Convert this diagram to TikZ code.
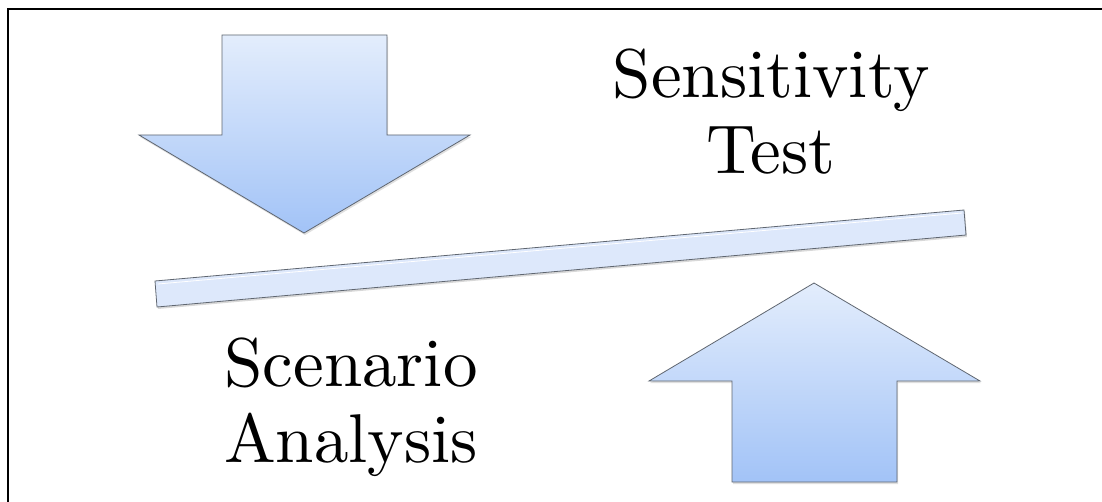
\documentclass[tikz,border=0pt]{standalone}
\usepackage{fontspec}
\setmainfont{lmroman10-regular.otf}
\usetikzlibrary{shadows}
\definecolor{arrowtop}{HTML}{E3EDFC}
\definecolor{arrowbottom}{HTML}{A2C3F7}
\definecolor{beamfill}{HTML}{DDE8FB}
\definecolor{edgegray}{HTML}{5F6670}
\tikzstyle{blockarrow} = [top color=arrowtop, bottom color=arrowbottom, draw=edgegray, line width=0.8pt, line join=miter, drop shadow={opacity=0.25, shadow xshift=1pt, shadow yshift=-2pt}]
\tikzstyle{beam} = [fill=beamfill, draw=edgegray, line width=0.8pt, drop shadow={opacity=0.3, shadow xshift=1pt, shadow yshift=-2pt}]
\tikzstyle{caption} = [align=center, inner sep=0pt, font=\fontsize{69}{76}\selectfont]

\begin{document}
\begin{tikzpicture}[x=1pt, y=-1pt]
\useasboundingbox (0,0) rectangle (1102,502);
\fill[white] (0,0) rectangle (1102,502);
\draw[line width=2.2pt] (1110,9) -- (8,9) -- (8,510);

% down arrow
\path[blockarrow] (222,35) -- (387,35) -- (387,135) -- (470,135) -- (304,233) -- (139,135) -- (222,135) -- cycle;
% up arrow
\path[blockarrow] (814,283) -- (980,381) -- (897,381) -- (897,482) -- (732,482) -- (732,381) -- (649,381) -- cycle;
% beam
\path[beam] (155,281) -- (964,210) -- (966,235) -- (157,307) -- cycle;
\draw[white, line width=0.8pt] (158,284) -- (962,213);

\node (sens) [caption] at (771,112) {Sensitivity\\Test};
\node (scen) [caption] at (351,407) {Scenario\\Analysis};

\end{tikzpicture}
\end{document}
